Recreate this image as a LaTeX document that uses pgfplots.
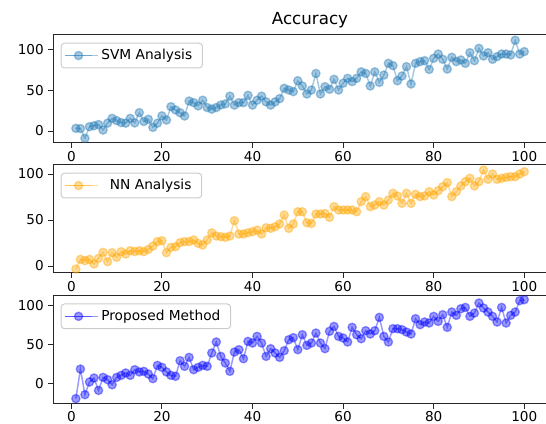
\documentclass[border=0pt]{standalone}
\usepackage{fontspec}
\setmainfont{DejaVu Sans}
\usepackage{pgfplots}
\pgfplotsset{compat=1.18}
\usepackage{pgfplotstable}

\definecolor{svmc}{HTML}{1F77B4}
\definecolor{nnc}{HTML}{FFA500}
\definecolor{pmc}{HTML}{0000FF}

\pgfplotstableread{
x y
1 3.3
2 3
3 -9
4 5.3
5 6.5
6 8
7 1.2
8 9.7
9 15.6
10 12.8
11 10.4
12 9.7
13 15.6
14 10
15 22.6
16 11.7
17 14.4
18 4.5
19 9.7
20 18.7
21 13.5
22 30
23 26
24 22.6
25 18.5
26 37
27 35
28 31
29 38
30 29
31 27
32 29
33 32
34 33.5
35 43
36 32
37 35
38 35
39 44
40 32
41 38
42 43
43 36
44 32
45 36
46 40
47 52.7
48 50.6
49 48.6
50 62
51 55.6
52 45.7
53 50.6
54 71
55 45.7
56 54.7
57 51.5
58 63.8
59 50.6
60 59
61 65
62 61
63 65
64 73
65 71
66 55.6
67 73
68 60
69 69
70 83.5
71 80.7
72 62
73 67.9
74 79.4
75 58
76 83.5
77 85.6
78 86.8
79 76
80 89.7
81 95
82 88.5
83 76.5
84 91
85 85.6
86 87.7
87 83.5
88 96.7
89 86.8
90 102
91 92.6
92 96.7
93 88.5
94 91.8
95 95
96 95
97 93.8
98 112
99 95
100 98
}\svmdata

\pgfplotstableread{
x y
1 -3.3
2 7.2
3 5.8
4 7.2
5 2.2
6 8.3
7 14.8
8 4.7
9 14.5
10 9.4
11 15.6
12 13
13 16.7
14 15.6
15 16.7
16 15.6
17 18
18 21.7
19 26.5
20 27.5
21 14.5
22 20.3
23 21
24 25.4
25 26.5
26 26.5
27 28.3
28 24.6
29 22.9
30 28.3
31 36
32 32.6
33 31.9
34 31.2
35 32.6
36 49.3
37 34.8
38 34.8
39 36.2
40 37.3
41 39
42 34.8
43 41.6
44 40.9
45 42.7
46 45.7
47 55.4
48 40.9
49 45.7
50 59
51 59
52 47
53 46.2
54 56.5
55 56.5
56 57
57 52.9
58 64.5
59 60.9
60 60.9
61 60.9
62 60.9
63 59
64 70
65 75.4
66 64.5
67 66.3
68 70
69 66.3
70 71.7
71 79
72 76.1
73 68.1
74 79
75 68.1
76 77.9
77 75.4
78 76.1
79 80.8
80 77.2
81 81.9
82 86.2
83 90.6
84 75.4
85 80.8
86 87
87 91.7
88 95.3
89 87
90 91.7
91 104.3
92 94.2
93 100
94 94.2
95 95.3
96 96.4
97 97.1
98 97.1
99 100
100 102.5
}\nndata

\pgfplotstableread{
x y
1 -19
2 18.7
3 -14
4 2.2
5 7.3
6 -8.5
7 8.1
8 5.2
9 -1.3
10 8.1
11 10.7
12 13.7
13 10.7
14 17.9
15 15
16 15.8
17 12.4
18 6.5
19 23.4
20 20.9
21 15
22 10.7
23 9.5
24 29.4
25 22.2
26 33.6
27 17.9
28 20.9
29 23.4
30 22.2
31 39.2
32 53.2
33 34.9
34 26.4
35 15.8
36 40.4
37 43.4
38 31.9
39 54
40 51.9
41 60.4
42 51.9
43 34.9
44 44.7
45 39.2
46 33.6
47 42.1
48 56.1
49 58.7
50 43.4
51 62.5
52 48.9
53 51.9
54 64.6
55 51.9
56 44.7
57 66.8
58 73.1
59 60.4
60 58.3
61 53.2
62 71.9
63 62.5
64 57.4
65 67.6
66 63.4
67 67.6
68 84.6
69 60.4
70 53.2
71 70.2
72 70.2
73 68.9
74 65.9
75 63.4
76 82.9
77 75.3
78 78.7
79 77.4
80 85.9
81 79.5
82 88
83 71.9
84 91.4
85 87.2
86 95.6
87 97.3
88 85.9
89 90.1
90 102.9
91 96.5
92 91.4
93 85.9
94 78.7
95 97.3
96 77.4
97 87.2
98 91.4
99 105.9
100 107.2
}\pmdata

\pgfplotsset{
  myax/.style={
    scale only axis, width=369.9pt, height=81pt,
    xmin=-3.95, xmax=104.95,
    xtick={0,20,40,60,80,100}, ytick={0,50,100},
    tick pos=left, tick align=outside, major tick length=3.75pt,
    axis line style={line width=0.75pt, black!85},
    every tick/.style={black!85, line width=0.75pt},
    tick label style={font=\fontsize{10.2}{12}\selectfont},
    xticklabel style={yshift=1.3pt},
    /pgf/number format/assume math mode=true,
    legend cell align=left,
    legend style={at={(0,1)}, anchor=north west, xshift=5.4pt, yshift=-5.8pt,
      draw=black!20, line width=0.75pt, rounded corners=2.5pt, fill=white,
      inner xsep=2.2pt, inner ysep=2.6pt,
      font=\fontsize{10.3}{12}\selectfont,
      nodes={inner sep=2pt, text depth=0.15em}},
    legend image code/.code={
      \draw[mark repeat=2,mark phase=2,##1] plot coordinates {(0pt,0pt) (10.3pt,0pt) (20.6pt,0pt)};
      \path (0pt,0pt) -- (24.8pt,0pt);
    },
  },
  ser/.style={color=#1, line width=1.1pt, draw opacity=0.4, mark=*, mark size=3.1pt,
    mark options={draw=#1, fill=#1, draw opacity=0.4, fill opacity=0.4, line width=1pt}},
}

\begin{document}
\begin{tikzpicture}
\path[use as bounding box] (0,0) rectangle (409.5pt,318pt);
\node[anchor=base, font=\fontsize{12.5}{15}\selectfont] at (232.5pt,299.25pt) {Accuracy};

\begin{axis}[myax, at={(40.1pt,291.75pt)}, anchor=north west, ymin=-14.8, ymax=118.5]
\addplot[ser=svmc] table[x=x,y=y] {\svmdata};
\addlegendentry{SVM Analysis\hspace*{3.5pt}}
\end{axis}

\begin{axis}[myax, at={(40.1pt,194.25pt)}, anchor=north west, ymin=-7.6, ymax=109.8]
\addplot[ser=nnc] table[x=x,y=y] {\nndata};
\addlegendentry{\hspace*{6.5pt}NN Analysis\hspace*{3.5pt}}
\end{axis}

\begin{axis}[myax, at={(40.1pt,96.2pt)}, anchor=north west, ymin=-25.5, ymax=112.2]
\addplot[ser=pmc] table[x=x,y=y] {\pmdata};
\addlegendentry{Proposed Method\hspace*{3.5pt}}
\end{axis}
\end{tikzpicture}
\end{document}
